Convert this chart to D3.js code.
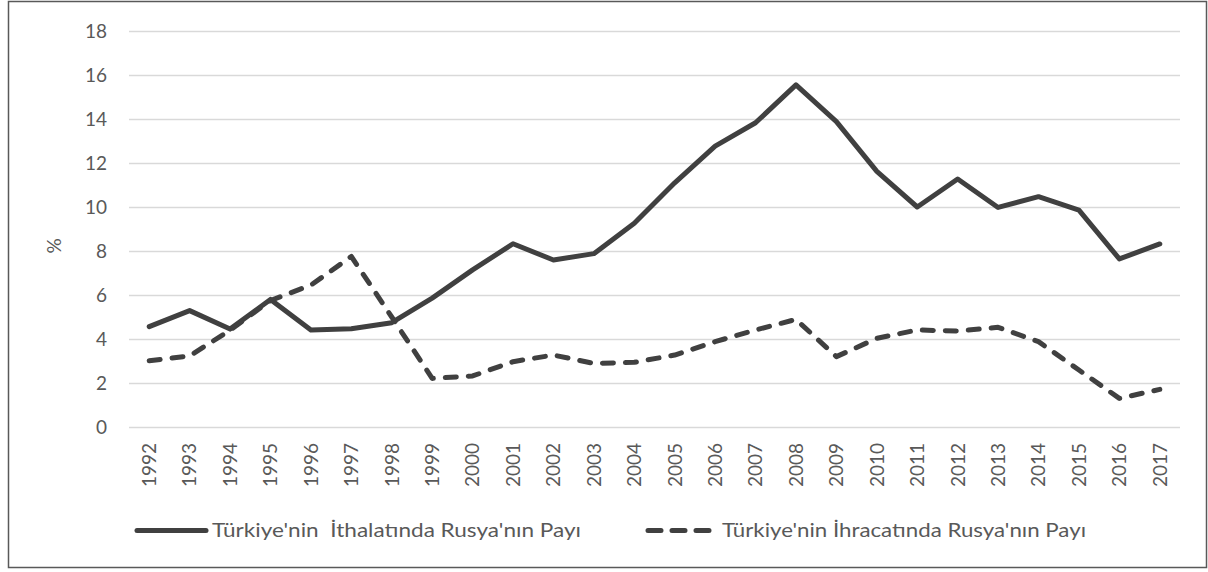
<!DOCTYPE html>
<html><head><meta charset="utf-8">
<script src="https://cdn.jsdelivr.net/npm/d3@7"></script>
<style>
body{margin:0;background:#fff;}
text{font-family:Lato,"Open Sans",sans-serif;fill:#595959;}
.keep{white-space:pre;}
</style></head>
<body><svg id="c" width="1208" height="572"></svg>
<script>
const years = ["1992","1993","1994","1995","1996","1997","1998","1999","2000","2001","2002","2003","2004","2005","2006","2007","2008","2009","2010","2011","2012","2013","2014","2015","2016","2017"];
const importShare = [4.56,5.29,4.45,5.80,4.41,4.47,4.74,5.86,7.14,8.33,7.59,7.88,9.26,11.1,12.77,13.83,15.55,13.88,11.62,10.0,11.27,9.98,10.47,9.86,7.64,8.32];
const exportShare = [3.01,3.23,4.4,5.75,6.45,7.75,5.0,2.21,2.32,2.97,3.27,2.89,2.94,3.27,3.88,4.41,4.89,3.2,4.03,4.41,4.36,4.53,3.88,2.59,1.3,1.71];
const yTicks = [0,2,4,6,8,10,12,14,16,18];
const seriesNames = ["Türkiye'nin  İthalatında Rusya'nın Payı","Türkiye'nin İhracatında Rusya'nın Payı"];

(function(){
const svg = d3.select("#c");
const pL=129, pR=1180, pT=31, pB=427;
const x = d3.scaleBand().domain(years).range([pL,pR]);
const y = d3.scaleLinear().domain([0,18]).range([pB,pT]);
const ink="#404040";
const fs=19, sw=5;

svg.append("rect").attr("x",8.5).attr("y",1.5).attr("width",1198).attr("height",566)
  .attr("fill","none").attr("stroke","#595959").attr("stroke-width",1.5);

const yAxis = svg.append("g").attr("transform",`translate(${pL},0)`)
  .call(d3.axisLeft(y).tickValues(yTicks).tickSize(-(pR-pL)).tickPadding(22));
yAxis.select(".domain").remove();
yAxis.attr("font-family",null);
yAxis.selectAll("line").attr("stroke","#d9d9d9").attr("stroke-width",1.3);
yAxis.selectAll("text").attr("font-size",fs).attr("fill","#595959").attr("dy","0.36em");

const xAxis = svg.append("g").attr("transform",`translate(0,${pB})`)
  .call(d3.axisBottom(x).tickSize(0).tickPadding(0));
xAxis.select(".domain").remove();
xAxis.attr("font-family",null);
xAxis.selectAll("text").attr("font-size",fs).attr("fill","#595959")
  .attr("transform","rotate(-90)").attr("text-anchor","end")
  .attr("x",-16).attr("y",0).attr("dy","0.36em");

svg.append("text").attr("transform","translate(54,246) rotate(-90)")
  .attr("text-anchor","middle").attr("dy","0.36em").attr("font-size",fs).text("%");

const line = d3.line().x((d,i)=>x(years[i])+x.bandwidth()/2).y(d=>y(d));
svg.append("path").datum(importShare).attr("d",line).attr("fill","none")
  .attr("stroke",ink).attr("stroke-width",sw).attr("stroke-linejoin","round").attr("stroke-linecap","round");
svg.append("path").datum(exportShare).attr("d",line).attr("fill","none")
  .attr("stroke",ink).attr("stroke-width",sw).attr("stroke-linejoin","round").attr("stroke-linecap","round")
  .attr("stroke-dasharray","11,12");

const ly=530.5;
const lg = svg.append("g");
lg.append("line").attr("x1",137).attr("x2",206).attr("y1",ly).attr("y2",ly)
  .attr("stroke",ink).attr("stroke-width",sw).attr("stroke-linecap","round");
lg.append("text").attr("class","keep").attr("x",212).attr("y",537).attr("font-size",fs)
  .attr("textLength",369).attr("lengthAdjust","spacingAndGlyphs").text(seriesNames[0]);
lg.append("line").attr("x1",648).attr("x2",709).attr("y1",ly).attr("y2",ly)
  .attr("stroke",ink).attr("stroke-width",sw).attr("stroke-linecap","round").attr("stroke-dasharray","13,11");
lg.append("text").attr("class","keep").attr("x",722).attr("y",537).attr("font-size",fs)
  .attr("textLength",364).attr("lengthAdjust","spacingAndGlyphs").text(seriesNames[1]);
})();
</script></body></html>
